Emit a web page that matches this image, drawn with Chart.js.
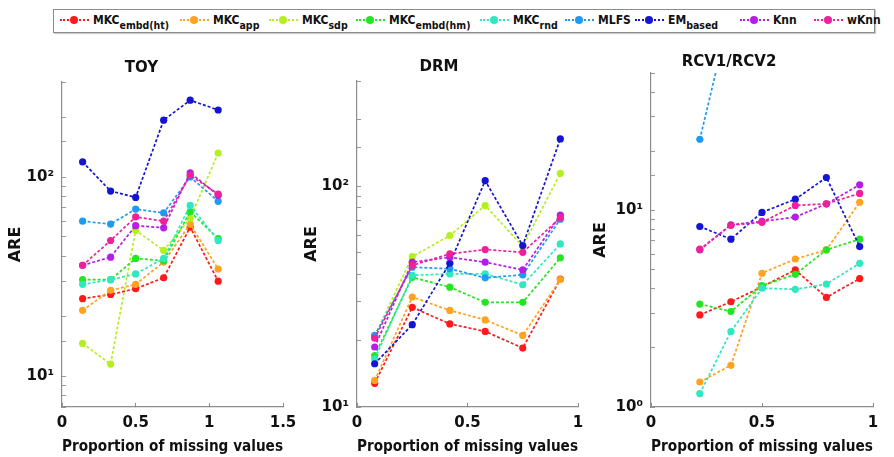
<!DOCTYPE html>
<html><head><meta charset="utf-8">
<script src="https://cdn.jsdelivr.net/npm/chart.js@4/dist/chart.umd.min.js"></script>
<style>
html,body{margin:0;padding:0;background:#fff;width:894px;height:457px;overflow:hidden;font-family:'DejaVu Sans',sans-serif;}
.plot{position:absolute;}
#legend{position:absolute;left:53px;top:9px;width:822px;height:24px;border:1px solid #8c8c8c;box-sizing:border-box;box-shadow:1px 1px 1px #ccc;}
.item{position:absolute;top:0;height:20px;display:flex;align-items:center;white-space:nowrap;}
.sample{position:relative;width:29px;height:10px;margin-right:4px;}
.sample::before{content:'';position:absolute;left:0;right:0;top:4px;border-top:2px dotted var(--c);}
.sample::after{content:'';position:absolute;left:10px;top:1px;width:8px;height:8px;border-radius:50%;background:var(--c);}
.lbl{font-weight:bold;font-size:12px;font-family:'DejaVu Sans Condensed','Liberation Sans Narrow','DejaVu Sans',sans-serif;color:#111;}
.lbl sub{font-size:10.5px;vertical-align:-5px;line-height:0;}
</style></head>
<body>
<div id="legend"></div>
<div class="plot" style="left:0;top:40px;width:300px;height:417px"><canvas id="c1" width="300" height="417"></canvas></div>
<div class="plot" style="left:300px;top:40px;width:300px;height:417px"><canvas id="c2" width="300" height="417"></canvas></div>
<div class="plot" style="left:585px;top:40px;width:309px;height:417px"><canvas id="c3" width="309" height="417"></canvas></div>
<script>
// ---- series definitions ----
const seriesNames = ['MKC_embd(ht)','MKC_app','MKC_sdp','MKC_embd(hm)','MKC_rnd','MLFS','EM_based','Knn','wKnn'];
const seriesMain  = ['MKC','MKC','MKC','MKC','MKC','MLFS','EM','Knn','wKnn'];
const seriesSub   = ['embd(ht)','app','sdp','embd(hm)','rnd','','based','',''];
const seriesColors = ['#ff1a1a','#ffa21f','#b4f01e','#22e622','#2ee8c0','#1e9bf0','#1414d2','#b41ee6','#f0209b'];

// ---- TOY ----
const toyX      = [0.14, 0.33, 0.5, 0.69, 0.87, 1.06];
const toyEmbdHt = [24.5, 25.7, 27.5, 31.2, 56, 30];
const toyApp    = [21.4, 27, 28.9, 37.4, 58, 34.5];
const toySdp    = [14.6, 11.5, 54, 42.8, 62, 132];
const toyEmbdHm = [30.5, 30.5, 39, 38, 67, 49];
const toyRnd    = [28.9, 30.5, 32.6, 39, 72, 48];
const toyMlfs   = [60, 58, 69, 66, 100, 75.5];
const toyEm     = [119, 85, 79, 193, 243, 217];
const toyKnn    = [36, 39.6, 57, 55.6, 105, 81];
const toyWknn   = [36, 48, 63, 60, 102, 82];
const toyXTicks = [0, 0.5, 1, 1.5];
const toyYRange = [7, 300];

// ---- DRM ----
const drmX      = [0.08, 0.25, 0.42, 0.58, 0.75, 0.92];
const drmEmbdHt = [12.8, 28.3, 23.8, 22, 18.5, 38];
const drmApp    = [13.2, 31.5, 27.4, 24.8, 21.1, 37.8];
const drmSdp    = [21, 48, 59.8, 81.8, 53.5, 114.5];
const drmEmbdHm = [17.1, 38.7, 34.9, 29.8, 29.8, 47.4];
const drmRnd    = [16.5, 39.5, 40.1, 40.1, 35.8, 54.8];
const drmMlfs   = [21.1, 43, 42.3, 38.5, 39.7, 71];
const drmEm     = [15.7, 23.6, 44.8, 106, 53.9, 164];
const drmKnn    = [18.7, 45.3, 47.7, 45.3, 41.8, 74];
const drmWknn   = [20.5, 43.8, 49.4, 51.7, 50.2, 72];
const drmXTicks = [0, 0.5, 1];
const drmYRange = [10, 300];

// ---- RCV1/RCV2 ----
const rcvX      = [0.22, 0.36, 0.5, 0.65, 0.79, 0.94];
const rcvEmbdHt = [2.94, 3.43, 4.09, 4.98, 3.61, 4.5];
const rcvApp    = [1.34, 1.63, 4.79, 5.66, 6.3, 11.0];
const rcvSdp    = [null, null, null, null, null, null];
const rcvEmbdHm = [3.34, 3.06, 4.14, 4.73, 6.3, 7.14];
const rcvRnd    = [1.17, 2.42, 4.02, 3.97, 4.22, 5.38];
const rcvMlfs   = [23, 106, null, null, null, null];
const rcvEm     = [8.28, 7.14, 9.77, 11.4, 14.7, 6.55];
const rcvKnn    = [6.3, 8.45, 8.79, 9.25, 10.8, 13.5];
const rcvWknn   = [6.35, 8.4, 8.7, 10.6, 10.8, 12.2];
const rcvXTicks = [0, 0.5, 1];
const rcvYRange = [1, 50];

// ---- legend (HTML, with subscripts) ----
const legendLeft = [6, 126, 215, 302, 426, 511, 581, 686, 760];
const legend = document.getElementById('legend');
seriesNames.forEach((n, i) => {
  const it = document.createElement('div');
  it.className = 'item';
  it.style.left = legendLeft[i] + 'px';
  it.innerHTML = '<span class="sample" style="--c:' + seriesColors[i] + '"></span><span class="lbl">' +
    seriesMain[i] + (seriesSub[i] ? '<sub>' + seriesSub[i] + '</sub>' : '') + '</span>';
  legend.appendChild(it);
});

const SUP = {'0':'\u2070','1':'\u00b9','2':'\u00b2','3':'\u00b3'};
const FONT = "'DejaVu Sans', sans-serif";

function makeChart(id, title, xs, series, xTicks, yRange, lay) {
  const datasets = series.map((vals, i) => ({
    label: seriesNames[i],
    data: xs.map((x, k) => ({x: x, y: vals[k]})),
    borderColor: seriesColors[i],
    backgroundColor: seriesColors[i],
    pointBackgroundColor: seriesColors[i],
    pointBorderWidth: 0,
    pointRadius: 3.6,
    borderWidth: 1.7,
    borderDash: [3, 2],
    tension: 0,
    fill: false,
    order: -i
  }));
  return new Chart(document.getElementById(id), {
    type: 'line',
    data: {datasets},
    options: {
      responsive: false,
      animation: false,
      devicePixelRatio: 1,
      layout: {padding: {left: 0, right: lay.right, top: 0, bottom: 0}},
      plugins: {
        legend: {display: false},
        tooltip: {enabled: false},
        title: {display: true, text: title, color: '#111',
          font: {family: FONT, size: 15, weight: 'bold', lineHeight: 1.2},
          padding: {top: lay.tTop, bottom: lay.tBottom}}
      },
      scales: {
        x: {
          type: 'linear', min: xTicks[0], max: xTicks[xTicks.length - 1],
          afterBuildTicks: s => { s.ticks = xTicks.map(v => ({value: v})); },
          afterFit: s => { s.height = 50; },
          grid: {drawOnChartArea: false, drawTicks: true, tickLength: -4, color: '#8c8c8c'},
          border: {display: true, color: '#8c8c8c', width: 1.2},
          ticks: {color: '#111', padding: 3, maxRotation: 0, autoSkip: false,
            font: {family: FONT, size: 15, weight: 'bold', lineHeight: 2.27},
            callback: v => String(v)},
          title: {display: true, text: 'Proportion of missing values', color: '#111',
            font: {family: FONT, size: 16, weight: 'bold', lineHeight: 1.05},
            padding: {top: 0, bottom: 2}}
        },
        y: {
          type: 'logarithmic', min: yRange[0], max: yRange[1],
          afterFit: s => { s.width = lay.yw; },
          grid: {drawOnChartArea: false, drawTicks: true, tickLength: -4, color: '#9a9a9a'},
          border: {display: true, color: '#8c8c8c', width: 1.2},
          ticks: {color: '#111', padding: 12, autoSkip: false,
            font: {family: FONT, size: 15, weight: 'bold'},
            callback: v => {
              const l = Math.log10(v);
              const r = Math.round(l);
              return Math.abs(l - r) < 1e-9 ? '10' + SUP[String(r)] : '';
            }},
          title: {display: true, text: 'ARE', color: '#111',
            font: {family: FONT, size: 16, weight: 'bold', lineHeight: 1.05},
            padding: {top: lay.aTop, bottom: 0}}
        }
      }
    }
  });
}

makeChart('c1', 'TOY', toyX,
  [toyEmbdHt, toyApp, toySdp, toyEmbdHm, toyRnd, toyMlfs, toyEm, toyKnn, toyWknn],
  toyXTicks, toyYRange, {right: 17, yw: 62, tTop: 19, tBottom: 5, aTop: 7});
makeChart('c2', 'DRM', drmX,
  [drmEmbdHt, drmApp, drmSdp, drmEmbdHm, drmRnd, drmMlfs, drmEm, drmKnn, drmWknn],
  drmXTicks, drmYRange, {right: 22, yw: 57, tTop: 18, tBottom: 5, aTop: 3});
makeChart('c3', 'RCV1/RCV2', rcvX,
  [rcvEmbdHt, rcvApp, rcvSdp, rcvEmbdHm, rcvRnd, rcvMlfs, rcvEm, rcvKnn, rcvWknn],
  rcvXTicks, rcvYRange, {right: 21, yw: 66, tTop: 13, tBottom: 2, aTop: 7});
</script>
</body></html>
